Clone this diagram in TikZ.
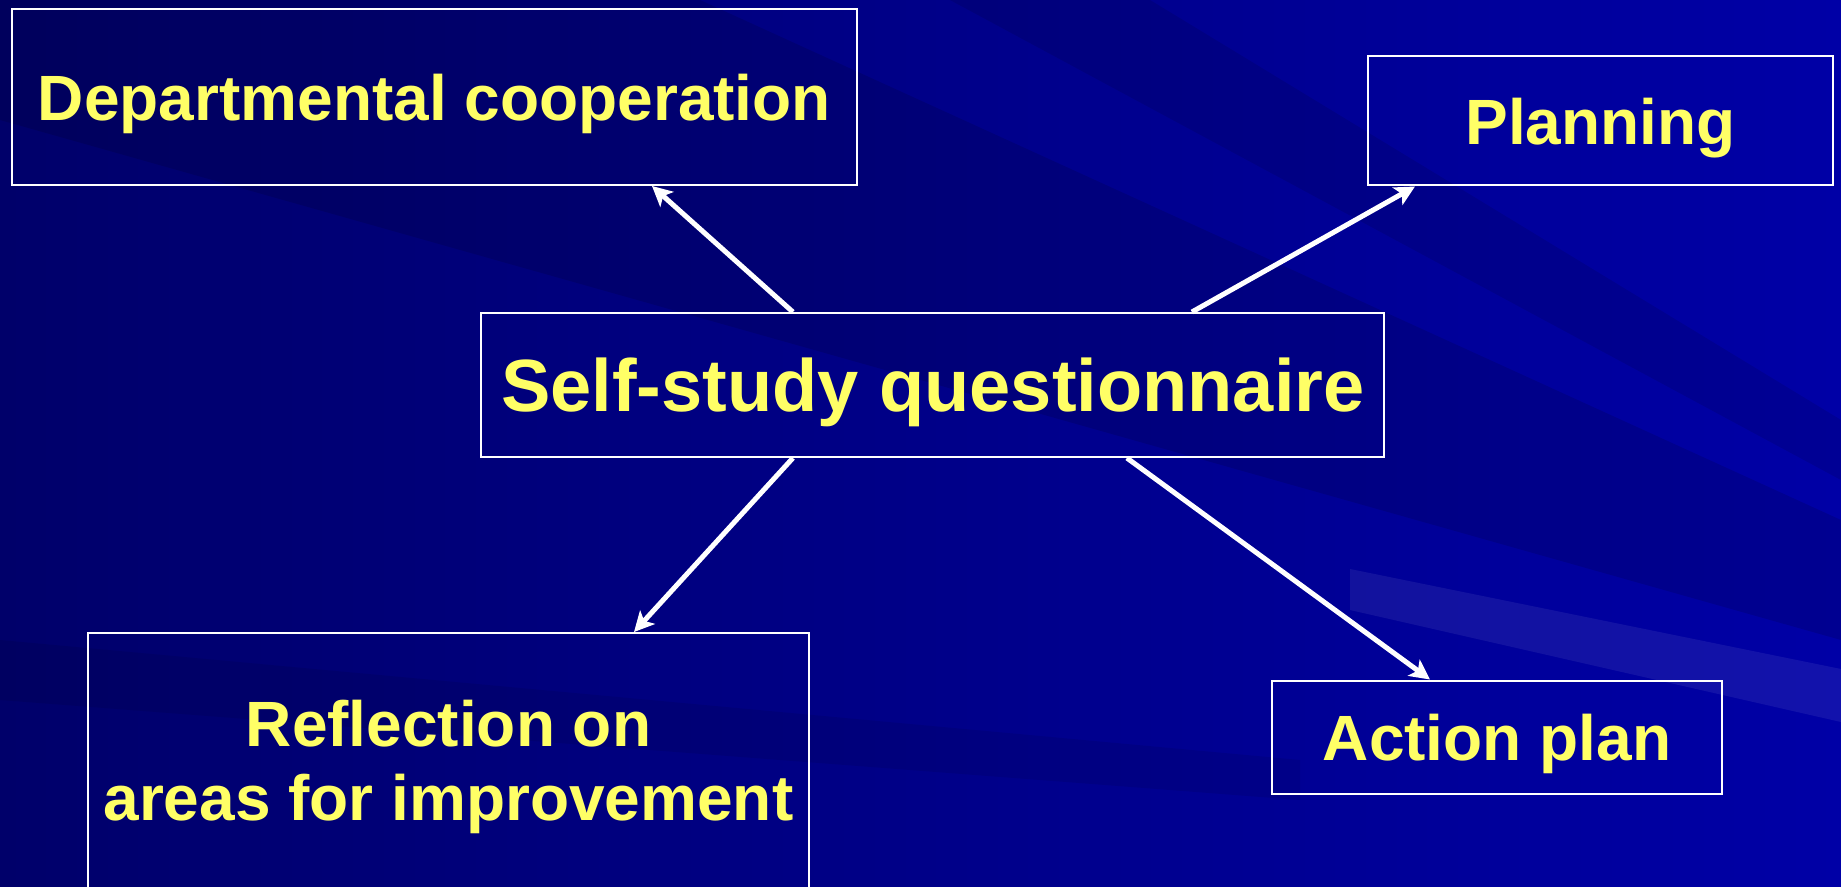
\documentclass[tikz,border=0pt]{standalone}
\usepackage{fontspec}
\setmainfont{Liberation Sans}
\usetikzlibrary{arrows.meta,calc}
\definecolor{bgdark}{HTML}{00006A}
\definecolor{bglight}{HTML}{0000A6}
\definecolor{boxtext}{HTML}{FFFF66}
\begin{document}
\begin{tikzpicture}[x=0.5pt,y=-0.5pt]
	\tikzstyle{box} = [draw=white,line width=1pt,text=boxtext,align=center,inner sep=0pt,font=\bfseries\fontsize{32}{37}\selectfont]
	\tikzstyle{oneline} = [box,text depth=0pt]
	\tikzstyle{link} = [draw=white,line width=2.5pt,-{Stealth[length=10pt,width=10pt,inset=2.5pt]}]
	\clip (0,0) rectangle (1841,887);
	% background and streaks
	\shade[left color=bgdark,right color=bglight] (0,0) rectangle (1841,887);
	\fill[black,opacity=0.12] (0,0) -- (700,0) -- (1841,520) -- (1841,640) -- (0,120) -- cycle;
	\fill[black,opacity=0.10] (950,0) -- (1150,0) -- (1841,420) -- (1841,480) -- cycle;
	\fill[white,opacity=0.07] (1350,569) -- (1841,669) -- (1841,722) -- (1350,610) -- cycle;
	\fill[black,opacity=0.08] (0,640) -- (1300,760) -- (1300,800) -- (0,700) -- cycle;
	% boxes
	\node (q) [oneline,minimum width=451.5pt,minimum height=72pt,font=\bfseries\fontsize{37}{42}\selectfont] at (932.9,385) {Self-study questionnaire};
	\node (dept) [oneline,minimum width=422.5pt,minimum height=88pt] at (434.5,97) {Departmental cooperation};
	\node (plan) [oneline,minimum width=232.5pt,minimum height=64.5pt] at (1600.5,121) {Planning};
	\node (refl) [box,minimum width=360.5pt,minimum height=134pt] at (448.5,767) {Reflection on\\areas for improvement};
	\node (act) [oneline,minimum width=225pt,minimum height=56.5pt] at (1497,737) {Action plan};
	
	\draw[link] ($(q.north)+(-140,0)$) -- ($(dept.south)+(217.5,0)$);
	\draw[link] ($(q.north)+(259,0)$) -- ($(plan.south)+(-185.5,0)$);
	\draw[link] ($(q.south)+(-140,0)$) -- ($(refl.north)+(185.5,0)$);
	\draw[link] ($(q.south)+(194,0)$) -- ($(act.north)+(-67,0)$);
\end{tikzpicture}
\end{document}
